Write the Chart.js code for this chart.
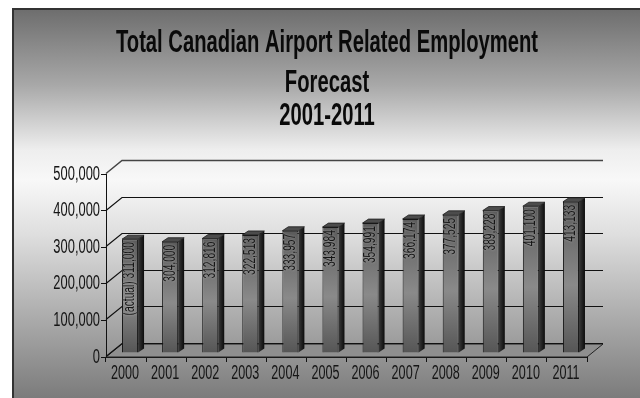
<!DOCTYPE html>
<html>
<head>
<meta charset="utf-8">
<title>Total Canadian Airport Related Employment Forecast</title>
<script src="https://cdn.jsdelivr.net/npm/chart.js@4"></script>
<style>
    html, body { margin: 0; padding: 0; background: #fff; }
    #frame {
        position: absolute; left: 12px; top: 8px; width: 626px; height: 390px;
        border: 1px solid #333; border-width: 2px 2px 0 2px;
        background: linear-gradient(#6e6e6e 0px, #a8a8a8 75px, #eeeeee 140px, #f8f8f8 170px, #dedede 225px, #b0b0b0 300px, #7a7a7a 390px);
    }
    #chart { position: absolute; left: 0; top: 0; }
</style>
</head>
<body>
<div id="frame"></div>
<canvas id="chart" width="640" height="398"></canvas>
<script>
const years = ['2000', '2001', '2002', '2003', '2004', '2005', '2006', '2007', '2008', '2009', '2010', '2011'];
const employment = [311000, 304000, 312816, 322513, 333957, 343984, 354991, 366174, 377525, 389228, 401100, 413133];
const yTicks = [0, 100000, 200000, 300000, 400000, 500000];
const titleLines = ['Total Canadian Airport Related Employment', 'Forecast', '2001-2011'];

const FONT = '"Liberation Sans", sans-serif';

// 3D look: how far the back wall sits behind the front axes
const wallDx = 16, wallDy = -13;
// bars stand a little behind the front edge of the floor
const barDx = 4, barDy = -4;
const sideDx = 6, sideDy = -4;

// no condensed face is available, so all text gets squeezed horizontally
function squeezedText(ctx, text, x, y, scaleX) {
    ctx.save();
    ctx.translate(x, y);
    ctx.scale(scaleX, 1);
    ctx.fillText(text, 0, 0);
    ctx.restore();
}

const wallPlugin = {
    id: 'wall',
    beforeDatasetsDraw(chart) {
        const { ctx, chartArea: a, scales: { y } } = chart;
        const y0 = y.getPixelForValue(0);

        // floor
        ctx.save();
        ctx.beginPath();
        ctx.moveTo(a.left, y0);
        ctx.lineTo(a.left + wallDx, y0 + wallDy);
        ctx.lineTo(a.right + wallDx, y0 + wallDy);
        ctx.lineTo(a.right, y0);
        ctx.closePath();
        ctx.fillStyle = '#8f8f8f';
        ctx.fill();
        ctx.strokeStyle = '#222';
        ctx.lineWidth = 1;
        ctx.stroke();

        // gridlines on the back wall, with the diagonal back to the axis
        yTicks.forEach(v => {
            const py = Math.round(y.getPixelForValue(v)) - 0.5;
            ctx.beginPath();
            ctx.moveTo(a.left, py);
            ctx.lineTo(a.left + wallDx, py + wallDy);
            ctx.lineTo(a.right + wallDx, py + wallDy);
            ctx.strokeStyle = v === 500000 ? '#444' : '#111';
            ctx.lineWidth = v === 500000 ? 1.5 : 1.2;
            ctx.stroke();
        });
        ctx.restore();

        ctx.save();
        ctx.translate(barDx, barDy);
    },
    afterDatasetsDraw(chart) {
        const { ctx } = chart;
        const meta = chart.getDatasetMeta(0);

        meta.data.forEach((bar, i) => {
            const half = bar.width / 2;
            const l = bar.x - half, r = bar.x + half;

            // right side face
            const side = ctx.createLinearGradient(r, 0, r + sideDx, 0);
            side.addColorStop(0, '#3a3a3a');
            side.addColorStop(1, '#0c0c0c');
            ctx.beginPath();
            ctx.moveTo(r, bar.y);
            ctx.lineTo(r + sideDx, bar.y + sideDy);
            ctx.lineTo(r + sideDx, bar.base + sideDy);
            ctx.lineTo(r, bar.base);
            ctx.closePath();
            ctx.fillStyle = side;
            ctx.fill();

            // top face
            ctx.beginPath();
            ctx.moveTo(l, bar.y);
            ctx.lineTo(l + sideDx, bar.y + sideDy);
            ctx.lineTo(r + sideDx, bar.y + sideDy);
            ctx.lineTo(r, bar.y);
            ctx.closePath();
            ctx.fillStyle = '#4c4c4c';
            ctx.fill();
            ctx.strokeStyle = '#1c1c1c';
            ctx.lineWidth = 0.8;
            ctx.stroke();

            // value printed up the front of the bar
            const text = (i === 0 ? '(actual) ' : '') + employment[i].toLocaleString('en-US');
            ctx.save();
            ctx.translate(bar.x, bar.y + 3);
            ctx.rotate(-Math.PI / 2);
            ctx.font = '16px ' + FONT;
            ctx.textAlign = 'right';
            ctx.textBaseline = 'middle';
            ctx.fillStyle = '#161616';
            ctx.shadowColor = 'rgba(235,235,235,0.55)';
            ctx.shadowBlur = 2;
            squeezedText(ctx, text, 0, 0, 0.64);
            ctx.restore();
        });
        ctx.restore();
    },
    afterDraw(chart) {
        const { ctx, scales: { x, y } } = chart;
        ctx.save();
        ctx.fillStyle = '#0a0a0a';

        // title
        ctx.font = 'bold 32px ' + FONT;
        ctx.textAlign = 'center';
        ctx.textBaseline = 'alphabetic';
        squeezedText(ctx, titleLines[0], 327, 52, 0.632);
        squeezedText(ctx, titleLines[1], 327, 92, 0.632);
        squeezedText(ctx, titleLines[2], 327, 125, 0.632);

        // axis labels, placed by the scales
        ctx.fillStyle = '#151515';
        ctx.textBaseline = 'middle';
        ctx.font = '20px ' + FONT;
        ctx.textAlign = 'right';
        yTicks.forEach(v => {
            squeezedText(ctx, v.toLocaleString('en-US'), y.left + y.width - 6, y.getPixelForValue(v), 0.645);
        });
        ctx.textAlign = 'center';
        years.forEach((label, i) => {
            squeezedText(ctx, label, x.getPixelForTick(i) - 1, y.bottom + 16, 0.63);
        });
        ctx.restore();
    }
};

new Chart(document.getElementById('chart'), {
    type: 'bar',
    data: {
        labels: years,
        datasets: [{
            data: employment,
            barPercentage: 0.4,
            categoryPercentage: 1,
            borderWidth: 1,
            borderColor: '#161616',
            backgroundColor(c) {
                const chart = c.chart;
                if (!chart.chartArea) return '#777';
                const y = chart.scales.y;
                const g = chart.ctx.createLinearGradient(0, y.getPixelForValue(c.raw), 0, y.getPixelForValue(0));
                g.addColorStop(0, '#5a5a5a');
                g.addColorStop(0.55, '#8a8a8a');
                g.addColorStop(1, '#555555');
                return g;
            }
        }]
    },
    options: {
        responsive: false,
        animation: false,
        layout: { padding: { top: 174, right: 53, left: 0, bottom: 0 } },
        plugins: {
            legend: { display: false },
            tooltip: { enabled: false }
        },
        scales: {
            x: {
                afterFit(scale) { scale.height = 41; },
                grid: { drawOnChartArea: false, tickLength: 5, color: '#111', offset: true },
                border: { color: '#111' },
                ticks: { display: false, autoSkip: false }
            },
            y: {
                min: 0,
                max: 500000,
                afterFit(scale) { scale.width = 106; },
                afterBuildTicks(scale) { scale.ticks = yTicks.map(value => ({ value })); },
                grid: { drawOnChartArea: false, tickLength: 5, color: '#111' },
                border: { color: '#111' },
                ticks: { display: false }
            }
        }
    },
    plugins: [wallPlugin]
});
</script>
</body>
</html>
